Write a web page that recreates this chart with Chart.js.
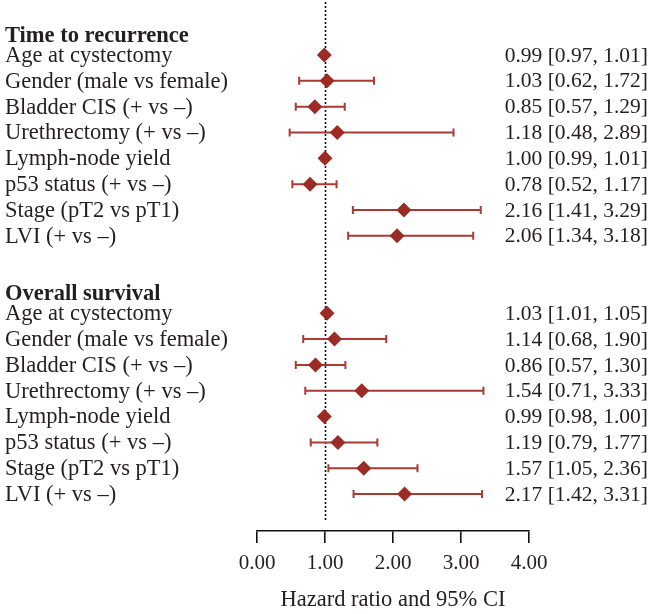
<!DOCTYPE html>
<html lang="en">
<head>
    <meta charset="UTF-8">
    <title>Forest plot</title>
    <script src="https://cdn.jsdelivr.net/npm/chart.js"></script>
    <style>
        body { margin: 0; background: #fff; }
    </style>
</head>
<body>
    <canvas id="myChart" width="654" height="614"></canvas>

<script>
    // rótulos das linhas (iguais nos dois grupos)
    const labels = [
        'Age at cystectomy',
        'Gender (male vs female)',
        'Bladder CIS (+ vs \u2013)',
        'Urethrectomy (+ vs \u2013)',
        'Lymph-node yield',
        'p53 status (+ vs \u2013)',
        'Stage (pT2 vs pT1)',
        'LVI (+ vs \u2013)'
    ];

    const groups = ['Time to recurrence', 'Overall survival'];

    // Time to recurrence
    const trrHR = [0.99, 1.03, 0.85, 1.18, 1.00, 0.78, 2.16, 2.06];
    const trrLo = [0.97, 0.62, 0.57, 0.48, 0.99, 0.52, 1.41, 1.34];
    const trrHi = [1.01, 1.72, 1.29, 2.89, 1.01, 1.17, 3.29, 3.18];

    // Overall survival
    const osHR = [1.03, 1.14, 0.86, 1.54, 0.99, 1.19, 1.57, 2.17];
    const osLo = [1.01, 0.68, 0.57, 0.71, 0.98, 0.79, 1.05, 1.42];
    const osHi = [1.05, 1.90, 1.30, 3.33, 1.00, 1.77, 2.36, 3.31];

    const xTicks = [0, 1, 2, 3, 4];
    const refLine = 1;
</script>

<script>
    const FONT = "'Liberation Serif', 'DejaVu Serif', serif";
    const textColor = '#231f20';

    // monta as linhas: grupo 1 nas posições 0..7, grupo 2 nas posições 10..17
    const rows = [];
    [[trrHR, trrLo, trrHi], [osHR, osLo, osHi]].forEach(function (g, gi) {
        const base = gi * 10;
        rows.push({ header: true, text: groups[gi], y: base - 0.77 });
        for (let i = 0; i < labels.length; i++) {
            rows.push({
                header: false,
                text: labels[i],
                y: base + i,
                hr: g[0][i], lo: g[1][i], hi: g[2][i]
            });
        }
    });

    const points = rows.filter(r => !r.header).map(r => ({ x: r.hr, y: r.y }));

    const forestPlugin = {
        id: 'forest',
        beforeDatasetsDraw(chart) {
            const ctx = chart.ctx;
            const xs = chart.scales.x, ys = chart.scales.y;
            const area = chart.chartArea;
            ctx.save();
            // linha pontilhada em HR = 1
            const xr = Math.round(xs.getPixelForValue(refLine)) + 0.5;
            ctx.strokeStyle = '#111';
            ctx.lineWidth = 1.6;
            ctx.setLineDash([2, 2]);
            ctx.beginPath();
            ctx.moveTo(xr, area.top + 2);
            ctx.lineTo(xr, area.bottom - 9);
            ctx.stroke();
            ctx.setLineDash([]);
            // intervalos de confiança
            ctx.strokeStyle = '#aa3a33';
            ctx.lineWidth = 2;
            rows.forEach(function (r) {
                if (r.header) return;
                const y = ys.getPixelForValue(r.y);
                const x1 = xs.getPixelForValue(r.lo);
                const x2 = xs.getPixelForValue(r.hi);
                ctx.beginPath();
                ctx.moveTo(x1, y); ctx.lineTo(x2, y);
                ctx.moveTo(x1, y - 4); ctx.lineTo(x1, y + 4);
                ctx.moveTo(x2, y - 4); ctx.lineTo(x2, y + 4);
                ctx.stroke();
            });
            ctx.restore();
        },
        afterDraw(chart) {
            const ctx = chart.ctx;
            const ys = chart.scales.y;
            ctx.save();
            ctx.fillStyle = textColor;
            ctx.textBaseline = 'middle';
            rows.forEach(function (r) {
                const y = ys.getPixelForValue(r.y) + 1;
                ctx.textAlign = 'left';
                ctx.font = (r.header ? 'bold ' : '') + '22.5px ' + FONT;
                ctx.fillText(r.text, 5, y);
                if (!r.header) {
                    ctx.textAlign = 'right';
                    ctx.font = '21.5px ' + FONT;
                    ctx.fillText(r.hr.toFixed(2) + ' [' + r.lo.toFixed(2) + ', ' + r.hi.toFixed(2) + ']', 648, y);
                }
            });
            ctx.restore();
        }
    };

    const config = {
        type: 'scatter',
        data: {
            datasets: [{
                data: points,
                pointStyle: 'rectRot',
                pointRadius: 7.5,
                pointHoverRadius: 7.5,
                backgroundColor: '#9b2b24',
                borderWidth: 0
            }]
        },
        options: {
            responsive: false,
            animation: false,
            events: [],
            layout: { autoPadding: false, padding: { left: 257, right: 125, top: 0, bottom: 0 } },
            plugins: { legend: { display: false }, tooltip: { enabled: false } },
            scales: {
                x: {
                    type: 'linear',
                    min: xTicks[0],
                    max: xTicks[xTicks.length - 1],
                    afterBuildTicks: function (scale) {
                        scale.ticks = xTicks.map(v => ({ value: v }));
                    },
                    border: { display: true, color: '#111', width: 1.6 },
                    grid: { drawOnChartArea: false, drawTicks: true, tickLength: 12, color: '#111', lineWidth: 1.6 },
                    ticks: {
                        padding: 8,
                        color: textColor,
                        font: { family: FONT, size: 21 },
                        callback: v => Number(v).toFixed(2)
                    },
                    title: {
                        display: true,
                        text: 'Hazard ratio and 95% CI',
                        color: textColor,
                        font: { family: FONT, size: 22.5 },
                        padding: { top: 2.8, bottom: 0 }
                    }
                },
                y: {
                    type: 'linear',
                    reverse: true,
                    min: -2.13,
                    max: 18.43,
                    display: false
                }
            }
        },
        plugins: [forestPlugin]
    };

    const myChart = new Chart(document.getElementById('myChart'), config);
</script>
</body>
</html>
